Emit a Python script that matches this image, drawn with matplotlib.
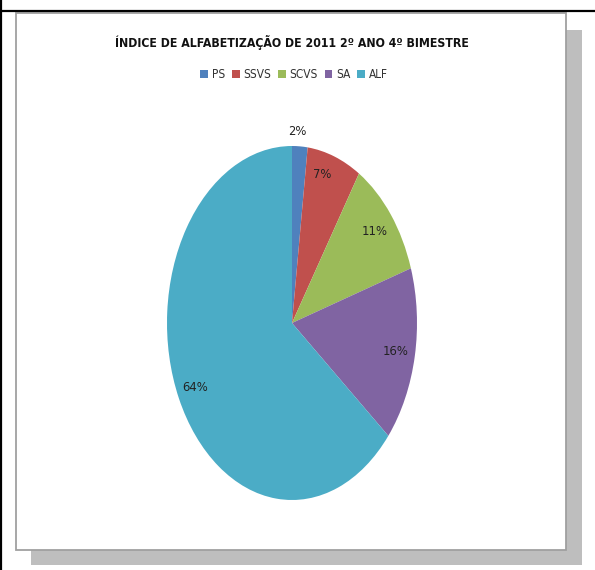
import os
import numpy as np
import matplotlib
matplotlib.use("Agg")
import matplotlib.pyplot as plt
from matplotlib import font_manager
from matplotlib.font_manager import FontProperties
from matplotlib.patches import Rectangle, Patch
from matplotlib.lines import Line2D

# Data
title = "ÍNDICE DE ALFABETIZAÇÃO DE 2011 2º ANO 4º BIMESTRE"
categories = ["PS", "SSVS", "SCVS", "SA", "ALF"]
values = [2, 7, 11, 16, 64]
colors = ["#4F81BD", "#C0504D", "#9BBB59", "#8064A2", "#4BACC6"]


# Look for a condensed sans face on the system
def find_face(keys, bold):
    paths = font_manager.findSystemFonts() + [f.fname for f in font_manager.fontManager.ttflist]
    for key in keys:
        for p in paths:
            base = os.path.basename(p)
            if key in base and (("Bold" in base) == bold) and "Oblique" not in base and "Italic" not in base:
                return p
    return None


keys = ["LiberationSansNarrow", "DejaVuSansCondensed", "RobotoCondensed", "OpenSansCondensed"]
reg_path = find_face(keys, False)
bold_path = find_face(keys, True)
fp_reg = FontProperties(fname=reg_path) if reg_path else FontProperties(family="DejaVu Sans")
fp_bold = FontProperties(fname=bold_path) if bold_path else FontProperties(family="DejaVu Sans", weight="bold")
narrow = reg_path is not None

W, H = 595, 570
fig = plt.figure(figsize=(W / 100, H / 100), dpi=100)


def fx(x):
    return x / W


def fy(y):
    return 1 - y / H


# Page frame lines
fig.add_artist(Line2D([fx(0), fx(W)], [fy(11), fy(11)], color="black", lw=1.6))
fig.add_artist(Line2D([fx(1), fx(1)], [fy(0), fy(H)], color="black", lw=1.6))

# Shadow and chart area
fig.add_artist(Rectangle((fx(31), fy(565)), fx(551), 535 / H, transform=fig.transFigure,
                         facecolor="#bebebe", edgecolor="none", zorder=0))
fig.add_artist(Rectangle((fx(15.5), fy(549.5)), fx(550.5), 537 / H, transform=fig.transFigure,
                         facecolor="white", edgecolor="#a0a0a0", lw=1.3, zorder=1))

# Title
tp = fp_bold.copy()
tp.set_size(8.8 if narrow else 8.2)
fig.text(fx(292), fy(43), title, ha="center", va="center", fontproperties=tp,
         color="#111111", zorder=3)

# Pie axes: ellipse centred at (292, 323), semi-axes 125 x 177 px
cx, cy, rx, ry = 292, 323, 125, 177
ax = fig.add_axes([fx(cx - rx), fy(cy + ry), 2 * rx / W, 2 * ry / H])
ax.set_zorder(2)
wedges, _ = ax.pie(values, colors=colors, startangle=90, counterclock=False,
                   radius=1, wedgeprops=dict(linewidth=0))
ax.set_aspect("auto")
ax.set_xlim(-1, 1)
ax.set_ylim(-1, 1)
ax.axis("off")

# Percentage labels
lp = fp_reg.copy()
lp.set_size(9.3)
total = sum(values)
label_radius = [1.08, 0.87, 0.84, 0.845, 0.855]
label_shift = [-1.5, -3.8, 0, 0, 0]
cum = np.cumsum([0] + values[:-1])
for v, c, r, s in zip(values, cum, label_radius, label_shift):
    mid = (c + v / 2) / total * 360 + s
    theta = np.deg2rad(90 - mid)
    ax.text(r * np.cos(theta), r * np.sin(theta), f"{v / total * 100:.0f}%",
            ha="center", va="center", fontproperties=lp, color="#222222")

# Legend
gp = fp_reg.copy()
gp.set_size(8.5)
handles = [Patch(facecolor=col, edgecolor="none") for col in colors]
leg = fig.legend(handles, categories, loc="center", bbox_to_anchor=(fx(294), fy(75)),
                 ncol=5, frameon=False, prop=gp, handlelength=0.65, handleheight=0.65,
                 handletextpad=0.3, columnspacing=0.6)
for t in leg.get_texts():
    t.set_color("#333333")

fig.savefig("out.png", dpi=100, facecolor="white")
